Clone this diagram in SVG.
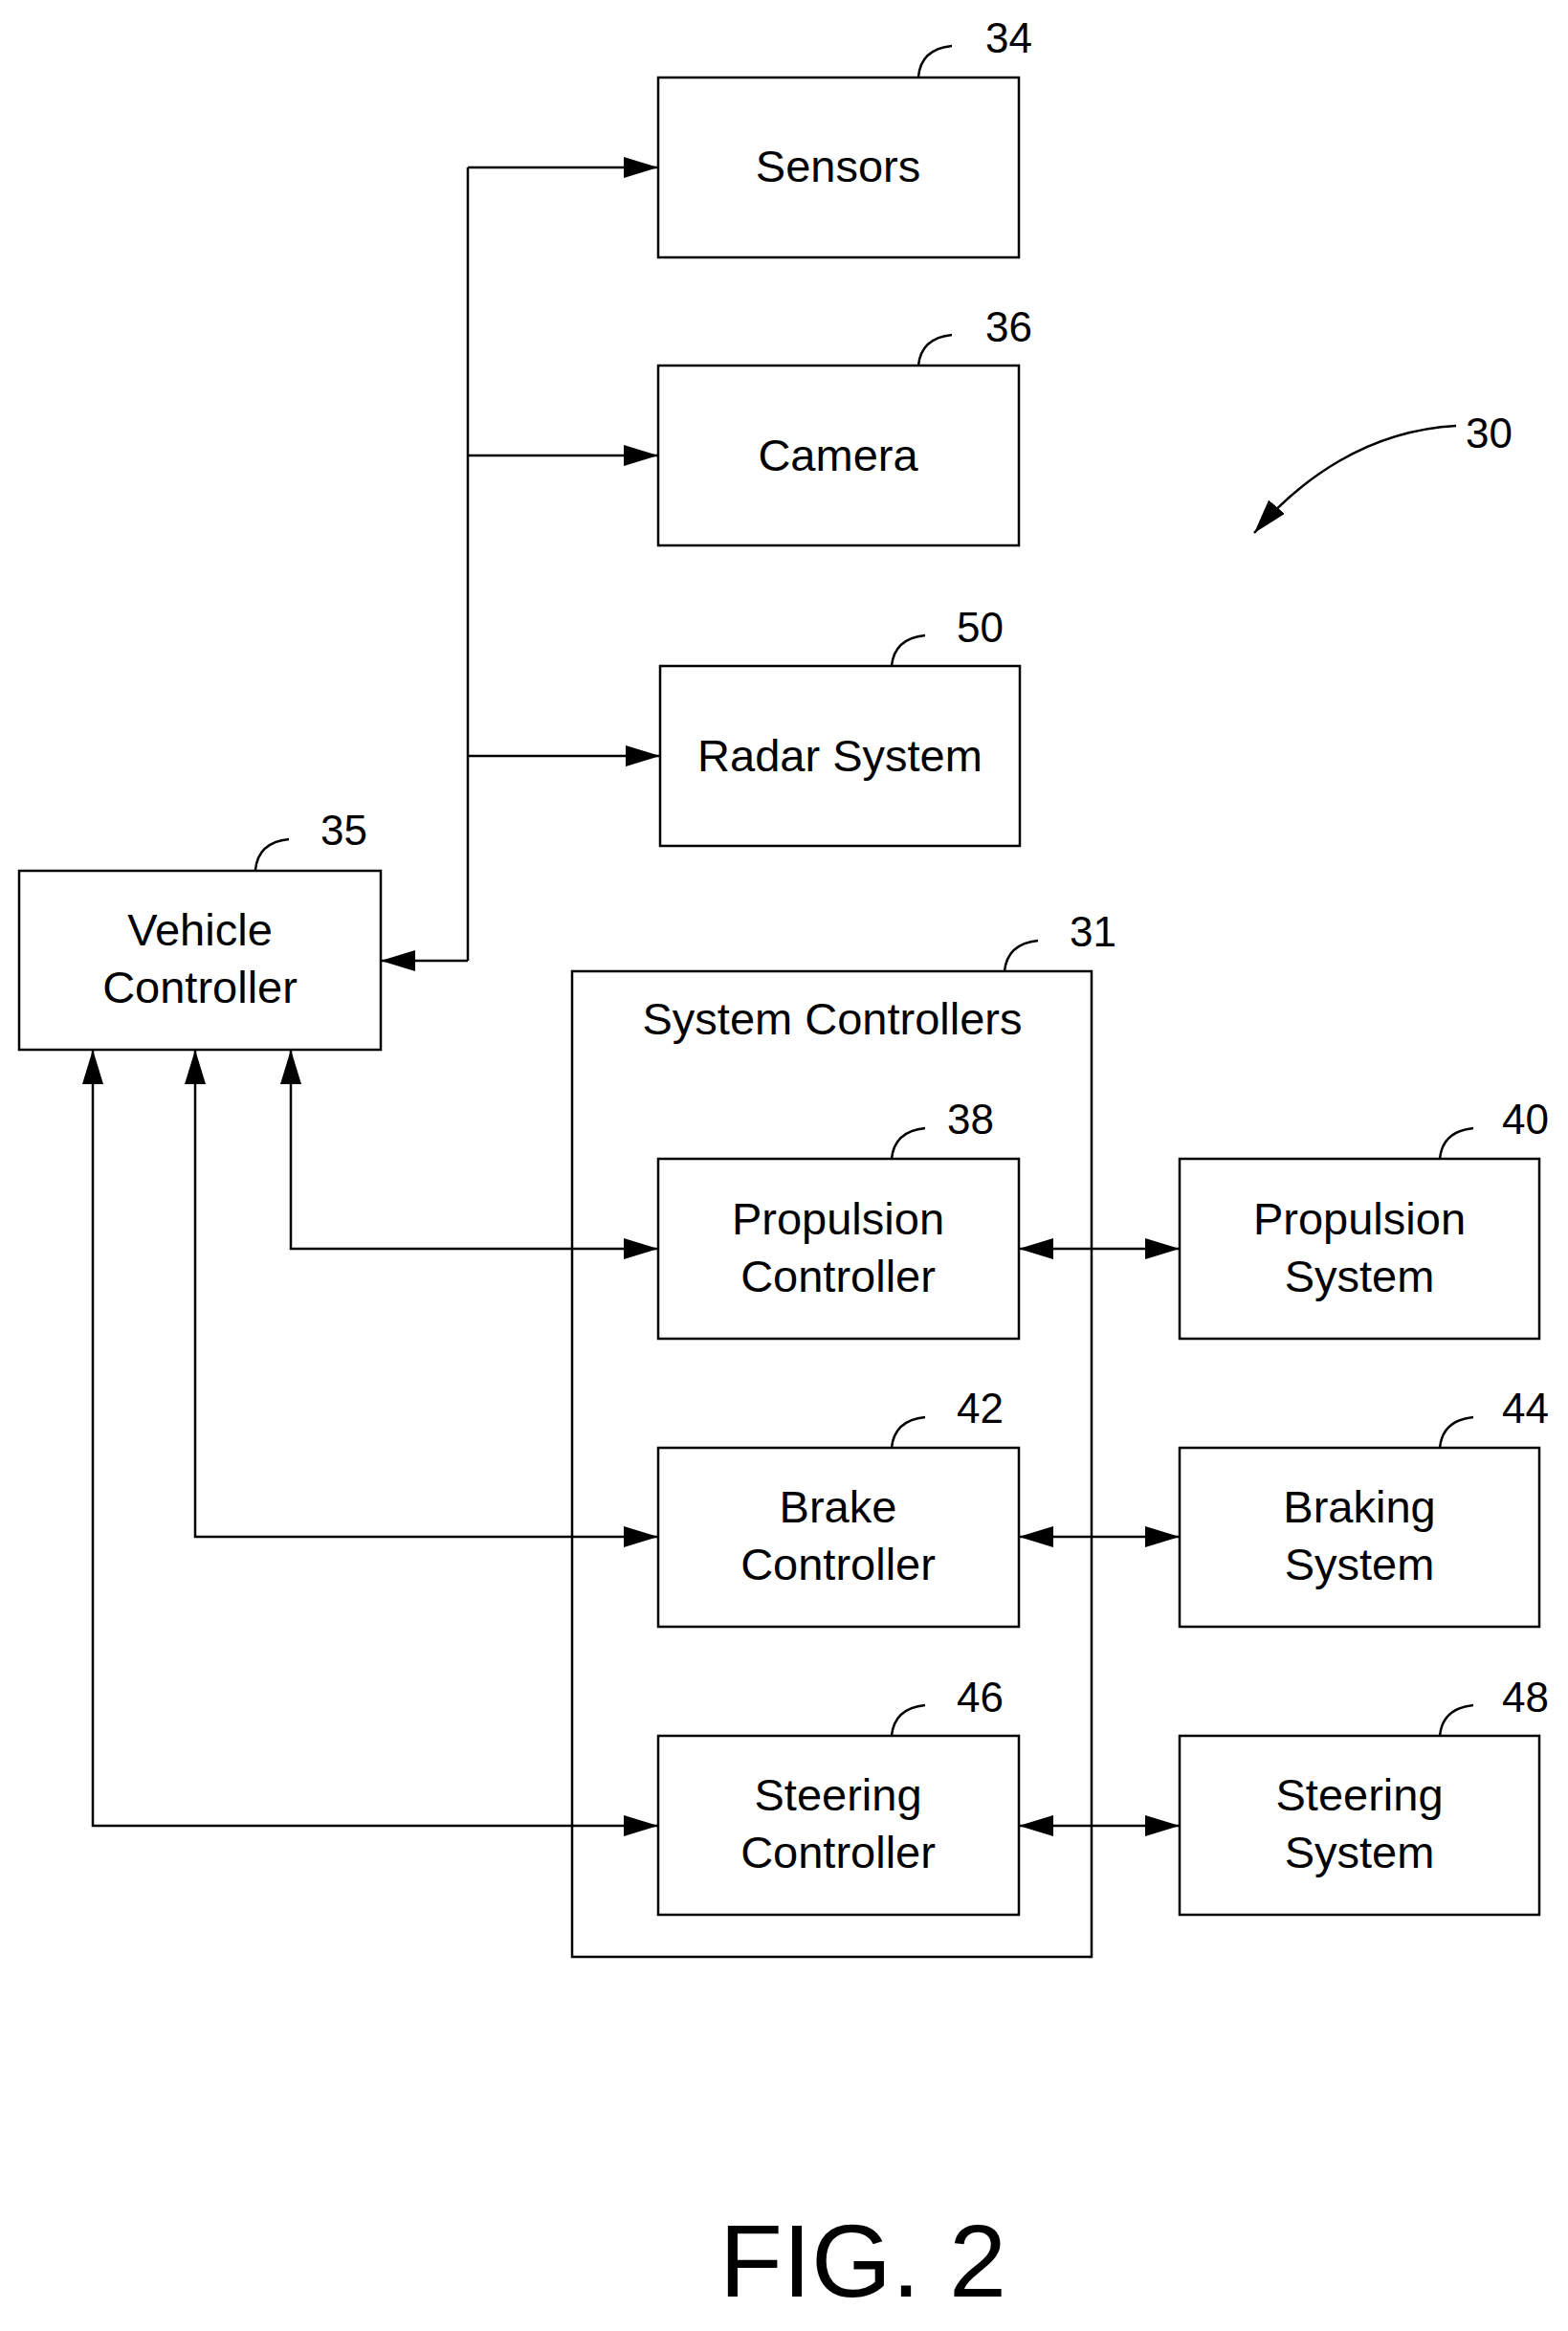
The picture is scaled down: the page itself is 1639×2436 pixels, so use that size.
<svg xmlns="http://www.w3.org/2000/svg" width="1639" height="2436" viewBox="0 0 1639 2436">
<defs>
<marker id="ab" markerWidth="36" markerHeight="22" refX="36" refY="11" orient="auto-start-reverse" markerUnits="userSpaceOnUse" viewBox="0 0 36 22"><path d="M0,0 L36,11 L0,22 z" fill="#000"/></marker>
<style>
rect{fill:none;stroke:#000;stroke-width:2.5}
text{font-family:Arial,"Liberation Sans",sans-serif;fill:#000}
.t{font-size:47px;text-anchor:middle}
.n{font-size:44px}
.l{fill:none;stroke:#000;stroke-width:2.5}
</style>
</defs>
<rect x="0" y="0" width="1639" height="2436" style="fill:#fff;stroke:none"/>
<g id="n34"><rect x="688" y="81" width="377" height="188"/><text class="t" x="876" y="190">Sensors</text><path class="l" d="M960,80 C962,60 975,50 995,48"/><text class="n" x="1030" y="55">34</text></g>
<g id="n36"><rect x="688" y="382" width="377" height="188"/><text class="t" x="876" y="492">Camera</text><path class="l" d="M960,382 C962,362 975,352 995,350"/><text class="n" x="1030" y="357">36</text></g>
<g id="n50"><rect x="690" y="696" width="376" height="188"/><text class="t" x="878" y="806">Radar System</text><path class="l" d="M932,696 C934,676 947,666 967,664"/><text class="n" x="1000" y="671">50</text></g>
<g id="n35"><rect x="20" y="910" width="378" height="187"/><text class="t" x="209" y="988">Vehicle</text><text class="t" x="209" y="1048">Controller</text><path class="l" d="M267,909 C269,889 282,879 302,877"/><text class="n" x="335" y="883">35</text></g>
<g id="n31"><rect x="598" y="1015" width="543" height="1030"/><text class="t" x="870" y="1081">System Controllers</text><path class="l" d="M1050,1015 C1052,995 1065,985 1085,983"/><text class="n" x="1118" y="989">31</text></g>
<g id="n38"><rect x="688" y="1211" width="377" height="188"/><text class="t" x="876" y="1290">Propulsion</text><text class="t" x="876" y="1350">Controller</text><path class="l" d="M932,1211 C934,1191 947,1181 967,1179"/><text class="n" x="990" y="1185">38</text></g>
<g id="n40"><rect x="1233" y="1211" width="376" height="188"/><text class="t" x="1421" y="1290">Propulsion</text><text class="t" x="1421" y="1350">System</text><path class="l" d="M1505,1211 C1507,1191 1520,1181 1540,1179"/><text class="n" x="1570" y="1185">40</text></g>
<g id="n42"><rect x="688" y="1513" width="377" height="187"/><text class="t" x="876" y="1591">Brake</text><text class="t" x="876" y="1651">Controller</text><path class="l" d="M932,1513 C934,1493 947,1483 967,1481"/><text class="n" x="1000" y="1487">42</text></g>
<g id="n44"><rect x="1233" y="1513" width="376" height="187"/><text class="t" x="1421" y="1591">Braking</text><text class="t" x="1421" y="1651">System</text><path class="l" d="M1505,1513 C1507,1493 1520,1483 1540,1481"/><text class="n" x="1570" y="1487">44</text></g>
<g id="n46"><rect x="688" y="1814" width="377" height="187"/><text class="t" x="876" y="1892">Steering</text><text class="t" x="876" y="1952">Controller</text><path class="l" d="M932,1814 C934,1794 947,1784 967,1782"/><text class="n" x="1000" y="1789">46</text></g>
<g id="n48"><rect x="1233" y="1814" width="376" height="187"/><text class="t" x="1421" y="1892">Steering</text><text class="t" x="1421" y="1952">System</text><path class="l" d="M1505,1814 C1507,1794 1520,1784 1540,1782"/><text class="n" x="1570" y="1789">48</text></g>
<g id="connectors" fill="none" stroke="#000" stroke-width="2.5">
<path d="M489,175 L489,1004" />
<path d="M489,175 L688,175" marker-end="url(#ab)"/>
<path d="M489,476 L688,476" marker-end="url(#ab)"/>
<path d="M489,790 L690,790" marker-end="url(#ab)"/>
<path d="M489,1004 L398,1004" marker-end="url(#ab)"/>
<path d="M304,1097 L304,1305 L688,1305" marker-start="url(#ab)" marker-end="url(#ab)"/>
<path d="M204,1097 L204,1606 L688,1606" marker-start="url(#ab)" marker-end="url(#ab)"/>
<path d="M97,1097 L97,1908 L688,1908" marker-start="url(#ab)" marker-end="url(#ab)"/>
<path d="M1065,1305 L1233,1305" marker-start="url(#ab)" marker-end="url(#ab)"/>
<path d="M1065,1606 L1233,1606" marker-start="url(#ab)" marker-end="url(#ab)"/>
<path d="M1065,1908 L1233,1908" marker-start="url(#ab)" marker-end="url(#ab)"/>
<path d="M1522,445 C1430,450 1360,500 1311,557" marker-end="url(#ab)"/>
</g>
<text class="n" x="1532" y="468">30</text>
<text x="902" y="2400" style="font-size:108px;text-anchor:middle">FIG. 2</text>
</svg>
